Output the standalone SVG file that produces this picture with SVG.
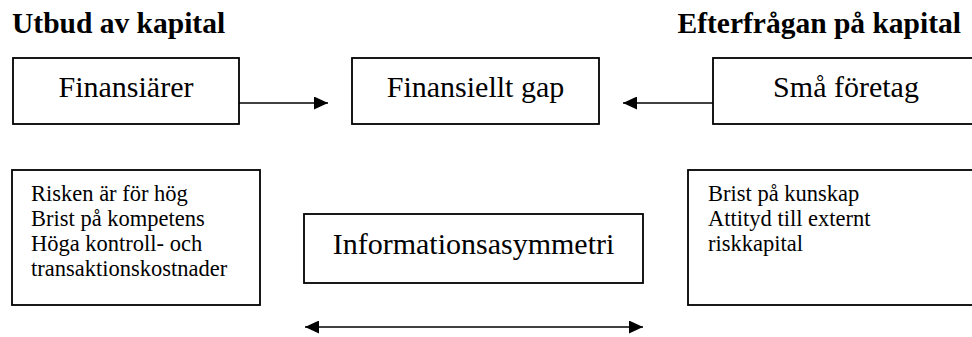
<svg xmlns="http://www.w3.org/2000/svg" width="972" height="337" viewBox="0 0 972 337">
<style>
.box{fill:#fff;stroke:#000;stroke-width:1.8}
text{font-family:'Liberation Serif','DejaVu Serif',serif;fill:#000}
.big{font-size:30px}
.small{font-size:22.5px}
.head{font-size:29.5px;font-weight:bold}
.conn{stroke:#000;stroke-width:1.6;fill:none}
</style>
<defs>
<marker id="ah" viewBox="0 0 14 13" refX="14" refY="6.5" markerWidth="14" markerHeight="13" markerUnits="userSpaceOnUse" orient="auto-start-reverse">
<path d="M0,0 L14,6.5 L0,13 Z" fill="#000"/>
</marker>
</defs>
<rect width="972" height="337" fill="#fff"/>
<text class="head" font-family="Liberation Serif, serif" x="12" y="33">Utbud av kapital</text>
<text class="head" font-family="Liberation Serif, serif" x="961" y="33" text-anchor="end">Efterfrågan på kapital</text>
<g id="finansiarer">
<rect class="box" x="13" y="58" width="226" height="66"/>
<text class="big" x="126" y="96.5" text-anchor="middle">Finansiärer</text>
</g>
<g id="finansiellt-gap">
<rect class="box" x="352" y="58" width="247" height="66"/>
<text class="big" x="475.5" y="96.5" text-anchor="middle">Finansiellt gap</text>
</g>
<g id="sma-foretag">
<rect class="box" x="713" y="58" width="266" height="66"/>
<text class="big" x="846" y="96.5" text-anchor="middle">Små företag</text>
</g>
<g id="finansiarer-skal">
<rect class="box" x="12" y="170" width="248" height="135"/>
<text class="small" x="31" y="201">Risken är för hög</text>
<text class="small" x="31" y="226">Brist på kompetens</text>
<text class="small" x="31" y="251">Höga kontroll- och</text>
<text class="small" x="31" y="276">transaktionskostnader</text>
</g>
<g id="informationsasymmetri">
<rect class="box" x="304" y="214" width="339" height="69"/>
<text class="big" x="473.5" y="253.5" text-anchor="middle">Informationsasymmetri</text>
</g>
<g id="foretag-skal">
<rect class="box" x="688" y="170" width="300" height="135"/>
<text class="small" x="708" y="201">Brist på kunskap</text>
<text class="small" x="708" y="226">Attityd till externt</text>
<text class="small" x="708" y="251">riskkapital</text>
</g>
<g id="connectors">
<line class="conn" x1="239" y1="103" x2="328" y2="103" marker-end="url(#ah)"/>
<line class="conn" x1="713" y1="103" x2="623" y2="103" marker-end="url(#ah)"/>
<line class="conn" x1="305" y1="327" x2="643" y2="327" marker-start="url(#ah)" marker-end="url(#ah)"/>
</g>
</svg>
